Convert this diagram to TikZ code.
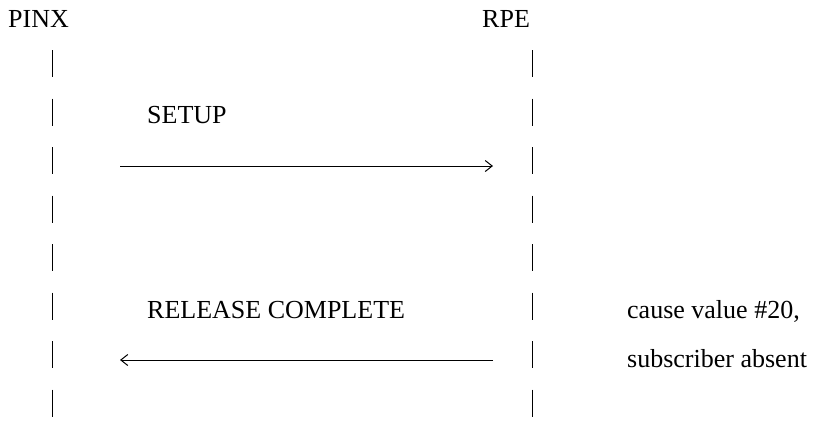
\documentclass[tikz,border=0pt]{standalone}
\usepackage{fontspec}
\setmainfont{Liberation Serif}
\usetikzlibrary{arrows.meta}
\begin{document}
\begin{tikzpicture}[x=1pt,y=-1pt,
  lbl/.style={anchor=base west,inner sep=0pt,font=\fontsize{26}{30}\selectfont},
  life/.style={line width=1pt,dash pattern=on 27pt off 21.5pt},
  msg/.style={line width=1pt,-{Straight Barb[length=7pt,width=11pt,line width=1pt]}}]
\useasboundingbox (0,0) rectangle (815,421);
\node[lbl] (pinx) at (8,27) {PINX};
\node[lbl] (rpe) at (482,27) {RPE};
\coordinate (pt) at (52,50);
\coordinate (pb) at (52,421);
\coordinate (rt) at (532,50);
\coordinate (rb) at (532,421);
\draw[life] (pt) -- (pb);
\draw[life] (rt) -- (rb);
\node[lbl] (setup) at (147,123) {SETUP};
\coordinate (s1) at (120,166);
\coordinate (s2) at (493,166);
\draw[msg] (s1) -- (s2);
\node[lbl] (rel) at (147,318) {RELEASE COMPLETE};
\coordinate (r1) at (493,360);
\coordinate (r2) at (120,360);
\draw[msg] (r1) -- (r2);
\node[lbl] (cause) at (627,318) {cause value \#20,};
\node[lbl] (subs) at (627,367) {subscriber absent};
\end{tikzpicture}
\end{document}
